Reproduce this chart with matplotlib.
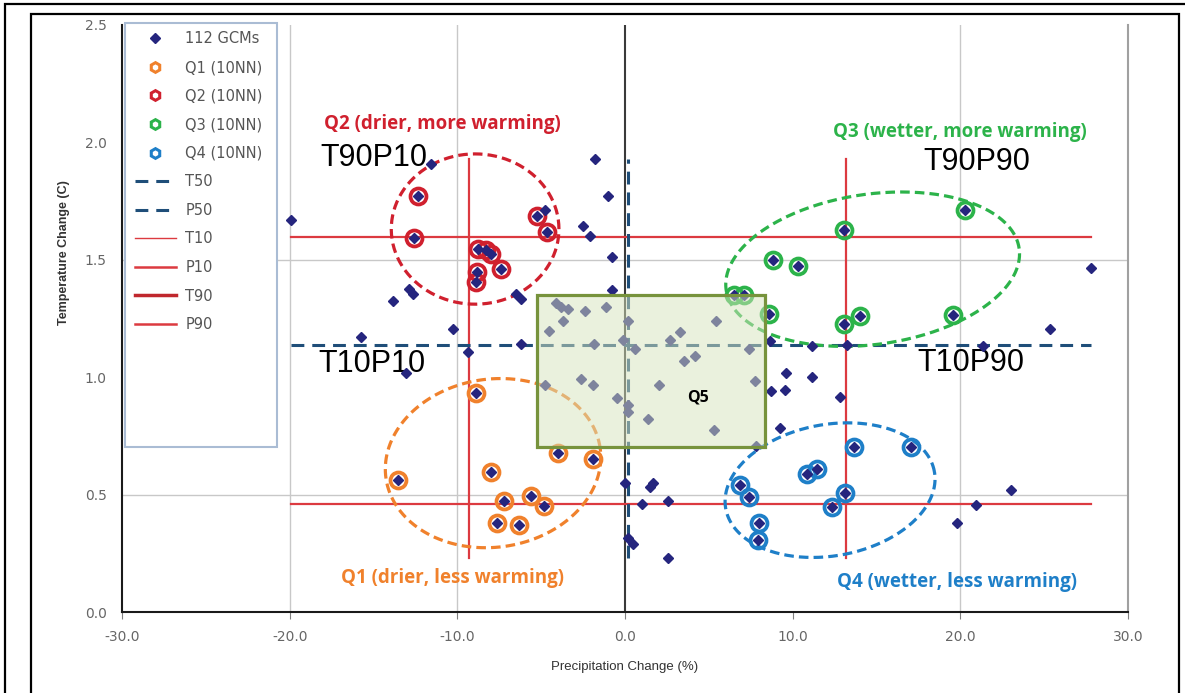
import numpy as np
import matplotlib
matplotlib.use('Agg')
import matplotlib.pyplot as plt
from matplotlib.lines import Line2D
from matplotlib.patches import Rectangle

# GCMs outside the four 10NN groups: precip change (%) / temp change (C)
gcm_p = [-11.56, -1.79, -1.00, -19.93, -4.78, -2.49, -2.09, -0.76, -12.90, -12.66,
         -13.86, -6.48, -6.18, -0.80, -10.27, -15.75, -9.37, -13.06, -6.18, 0.00,
         -4.09, -3.79, -3.39, -2.39, -1.14, -3.69, -4.53, 0.20, -1.84, -0.14,
         0.60, 3.29, 2.69, 5.44, 3.53, 4.19, 7.37, -2.65, -1.90, -0.46,
         0.20, 0.20, 2.05, 1.39, 5.28, 7.73, 7.84, -4.78, 8.63, 9.63,
         11.17, 8.73, 9.57, 12.82, 9.23, 27.81, 25.32, 21.33, 13.26, 11.17,
         23.03, 20.93, 19.80, 1.50, 1.69, 1.00, 2.59, 0.20, 0.46, 2.55]
gcm_t = [1.906, 1.930, 1.770, 1.671, 1.713, 1.643, 1.600, 1.512, 1.374, 1.356,
         1.325, 1.353, 1.335, 1.370, 1.207, 1.172, 1.108, 1.018, 1.143, 0.548,
         1.314, 1.299, 1.292, 1.281, 1.299, 1.238, 1.197, 1.238, 1.140, 1.157,
         1.122, 1.193, 1.160, 1.238, 1.070, 1.089, 1.118, 0.994, 0.966, 0.912,
         0.881, 0.852, 0.966, 0.820, 0.774, 0.984, 0.708, 0.966, 1.153, 1.016,
         1.001, 0.940, 0.945, 0.914, 0.782, 1.467, 1.204, 1.132, 1.136, 1.132,
         0.519, 0.455, 0.380, 0.533, 0.550, 0.460, 0.474, 0.314, 0.289, 0.231]

# 10 nearest neighbours of each quadrant
q1_p = [-8.87, -13.56, -8.01, -3.99, -1.90, -7.24, -5.58, -4.84, -7.64, -6.32]
q1_t = [0.933, 0.562, 0.597, 0.678, 0.650, 0.472, 0.495, 0.451, 0.380, 0.370]
q2_p = [-12.36, -12.56, -5.22, -4.68, -8.77, -8.27, -7.97, -7.37, -8.83, -8.87]
q2_t = [1.770, 1.594, 1.685, 1.618, 1.545, 1.540, 1.526, 1.462, 1.448, 1.406]
q3_p = [13.06, 20.30, 8.83, 10.33, 6.48, 7.08, 8.57, 13.06, 14.01, 19.54]
q3_t = [1.626, 1.711, 1.498, 1.472, 1.349, 1.349, 1.271, 1.228, 1.261, 1.267]
q4_p = [13.65, 17.05, 10.83, 11.46, 6.84, 7.38, 13.10, 12.36, 7.97, 7.91]
q4_t = [0.703, 0.703, 0.587, 0.611, 0.543, 0.491, 0.505, 0.448, 0.377, 0.306]

# percentiles
T10, T50, T90 = 0.460, 1.136, 1.597
P10, P50, P90 = -9.33, 0.18, 13.16

# Q5 box (precip range, temp range)
q5_p = [-5.27, 8.37]
q5_t = [0.703, 1.349]

# ellipses: centre p, centre t, width (%), height (C), tilt on page (deg)
ell_q1 = [-7.87, 0.634, 12.9, 0.716, 8]
ell_q2 = [-8.94, 1.631, 10.0, 0.640, 0]
ell_q3 = [14.77, 1.460, 17.65, 0.640, 8]
ell_q4 = [12.23, 0.519, 12.64, 0.560, 10]

navy = '#25257e'
c_q1 = '#f0812c'
c_q2 = '#d0202e'
c_q3 = '#2cb34a'
c_q4 = '#1e7fc8'
red = '#dc3a40'
dblue = '#1f4e79'


def draw_ellipse(ax, ell, color):
    cx, cy, w, h, ang = ell
    bb = ax.get_window_extent()
    sx = bb.width / 60.0
    sy = bb.height / 2.5
    t = np.linspace(0, 2 * np.pi, 300)
    a = w / 2 * sx
    b = h / 2 * sy
    r = np.deg2rad(ang)
    u = a * np.cos(t) * np.cos(r) - b * np.sin(t) * np.sin(r)
    v = a * np.cos(t) * np.sin(r) + b * np.sin(t) * np.cos(r)
    ax.plot(cx + u / sx, cy + v / sy, color=color, lw=2.3,
            dashes=(3.0, 1.6), zorder=3)


def main():
    fig = plt.figure(figsize=(11.85, 6.93), dpi=100)
    fig.subplots_adjust(left=122 / 1185, right=1128 / 1185,
                        bottom=1 - 612 / 693, top=1 - 25 / 693)
    ax = fig.add_subplot(111)
    ax.set_xlim(-30, 30)
    ax.set_ylim(0, 2.5)

    all_p = gcm_p + q1_p + q2_p + q3_p + q4_p
    all_t = gcm_t + q1_t + q2_t + q3_t + q4_t

    # grid (only some lines show in the original)
    for gx in [-20, -10, 20]:
        ax.axvline(gx, color='#c8c8c8', lw=1, zorder=0.5)
    for gy in [0.5, 1.5]:
        ax.axhline(gy, color='#c8c8c8', lw=1, zorder=0.5)
    ax.axvline(0, color='#3a3a3a', lw=1.5, zorder=1)

    # percentile lines
    pmin, pmax = min(all_p), max(all_p)
    tmin, tmax = min(all_t), max(all_t)
    ax.plot([pmin, pmax], [T10, T10], color=red, lw=1.6, zorder=2)
    ax.plot([pmin, pmax], [T90, T90], color=red, lw=1.6, zorder=2)
    ax.plot([P10, P10], [tmin, tmax], color=red, lw=1.6, zorder=2)
    ax.plot([P90, P90], [tmin, tmax], color=red, lw=1.6, zorder=2)
    ax.plot([pmin, pmax], [T50, T50], color=dblue, lw=2.2,
            dashes=(4.2, 2.6), zorder=2)
    ax.plot([P50, P50], [tmin, tmax], color=dblue, lw=2.2,
            dashes=(4.2, 2.6), zorder=2)

    draw_ellipse(ax, ell_q1, c_q1)
    draw_ellipse(ax, ell_q2, c_q2)
    draw_ellipse(ax, ell_q3, c_q3)
    draw_ellipse(ax, ell_q4, c_q4)

    for qp, qt, c in [(q1_p, q1_t, c_q1), (q2_p, q2_t, c_q2),
                      (q3_p, q3_t, c_q3), (q4_p, q4_t, c_q4)]:
        ax.plot(qp, qt, 'o', ms=11.5, mfc='none', mec=c, mew=2.7, zorder=4)
    ax.plot(all_p, all_t, 'D', ms=5.3, color=navy, mec=navy, zorder=5)

    # Q5 box sits on top and washes out what is under it
    ax.add_patch(Rectangle((q5_p[0], q5_t[0]), q5_p[1] - q5_p[0], q5_t[1] - q5_t[0],
                           facecolor='#d7e4bd', alpha=0.5, edgecolor='none', zorder=6))
    ax.add_patch(Rectangle((q5_p[0], q5_t[0]), q5_p[1] - q5_p[0], q5_t[1] - q5_t[0],
                           facecolor='none', edgecolor='#77933c', lw=2.3, zorder=6.5))
    ax.text(4.35, 0.913, 'Q5', fontsize=11.5, fontweight='bold', family='Open Sans',
            ha='center', va='center', zorder=7)

    # quadrant labels
    qfont = dict(fontsize=13.5, fontweight='bold', family='Open Sans', ha='center', va='center')
    ax.text(-10.88, 2.078, 'Q2 (drier, more warming)', color=c_q2, **qfont)
    ax.text(19.98, 2.044, 'Q3 (wetter, more warming)', color=c_q3, **qfont)
    ax.text(-10.29, 0.145, 'Q1 (drier, less warming)', color=c_q1, **qfont)
    ax.text(19.78, 0.129, 'Q4 (wetter, less warming)', color=c_q4, **qfont)

    tfont = dict(fontsize=22, family='Liberation Sans', ha='center', va='center')
    ax.text(-15.0, 1.935, 'T90P10', **tfont)
    ax.text(20.97, 1.917, 'T90P90', **tfont)
    ax.text(-15.1, 1.056, 'T10P10', **tfont)
    ax.text(20.6, 1.060, 'T10P90', **tfont)

    # axes cosmetics
    ax.set_xticks(np.arange(-30, 31, 10))
    ax.set_yticks(np.arange(0, 2.51, 0.5))
    ax.set_xticklabels(['%.1f' % v for v in np.arange(-30, 31, 10)])
    ax.set_yticklabels(['%.1f' % v for v in np.arange(0, 2.51, 0.5)])
    ax.tick_params(axis='x', direction='out', length=5, color='#808080',
                   labelsize=10, labelcolor='#666666', pad=8)
    ax.tick_params(axis='y', length=0, labelsize=10, labelcolor='#666666', pad=11)
    for lab in ax.get_xticklabels() + ax.get_yticklabels():
        lab.set_family('DejaVu Sans')
    ax.spines['top'].set_visible(False)
    ax.spines['right'].set_color('#a0a0a0')
    ax.spines['right'].set_linewidth(1.5)
    ax.spines['left'].set_color('#1a1a1a')
    ax.spines['left'].set_linewidth(1.5)
    ax.spines['bottom'].set_color('#1a1a1a')
    ax.spines['bottom'].set_linewidth(1.5)
    ax.set_xlabel('Precipitation Change (%)', fontsize=9.5, color='#333333',
                  family='Liberation Sans', labelpad=12)
    ax.set_ylabel('Temperature Change (C)', fontsize=9, color='#333333',
                  family='Liberation Sans', fontweight='bold')
    ax.yaxis.set_label_coords(-0.0517, 0.613)

    # legend in its own tall box like the Excel original
    ax.add_patch(Rectangle((0.003, 0.281), 0.151, 0.722, transform=ax.transAxes,
                           facecolor='white', edgecolor='#aabcd4', lw=1.5,
                           clip_on=False, zorder=8))
    handles = [
        Line2D([], [], ls='none', marker='D', ms=5.3, color=navy),
        Line2D([], [], ls='none', marker='h', ms=7, mfc='none', mec=c_q1, mew=2.2),
        Line2D([], [], ls='none', marker='h', ms=7, mfc='none', mec=c_q2, mew=2.2),
        Line2D([], [], ls='none', marker='h', ms=7, mfc='none', mec=c_q3, mew=2.2),
        Line2D([], [], ls='none', marker='h', ms=7, mfc='none', mec=c_q4, mew=2.2),
        Line2D([], [], color=dblue, lw=2.2, dashes=(4.2, 2.6)),
        Line2D([], [], color=dblue, lw=2.2, dashes=(4.2, 2.6)),
        Line2D([], [], color=red, lw=1.0),
        Line2D([], [], color=red, lw=1.8),
        Line2D([], [], color='#c0272d', lw=2.5),
        Line2D([], [], color=red, lw=1.8),
    ]
    labels = ['112 GCMs', 'Q1 (10NN)', 'Q2 (10NN)', 'Q3 (10NN)', 'Q4 (10NN)',
              'T50', 'P50', 'T10', 'P10', 'T90', 'P90']
    leg = ax.legend(handles, labels, loc='upper left', bbox_to_anchor=(0.0129, 0.989),
                    frameon=False, borderpad=0, borderaxespad=0,
                    handlelength=2.8, handletextpad=0.65, labelspacing=0.93,
                    prop={'family': 'DejaVu Sans', 'size': 10.5})
    leg.set_zorder(9)
    for txt in leg.get_texts():
        txt.set_color('#555555')

    # double frame round the picture
    fig.add_artist(Rectangle((5 / 1185, -0.1), 1.2, 1.1 - 4 / 693, transform=fig.transFigure,
                             facecolor='none', edgecolor='black', lw=1.6))
    fig.add_artist(Rectangle((31 / 1185, -0.1), (1179 - 31) / 1185, 1.1 - 14 / 693,
                             transform=fig.transFigure, facecolor='none',
                             edgecolor='black', lw=1.6))

    fig.savefig('out.png', dpi=100)
    plt.close()


if __name__ == "__main__":
    main()
